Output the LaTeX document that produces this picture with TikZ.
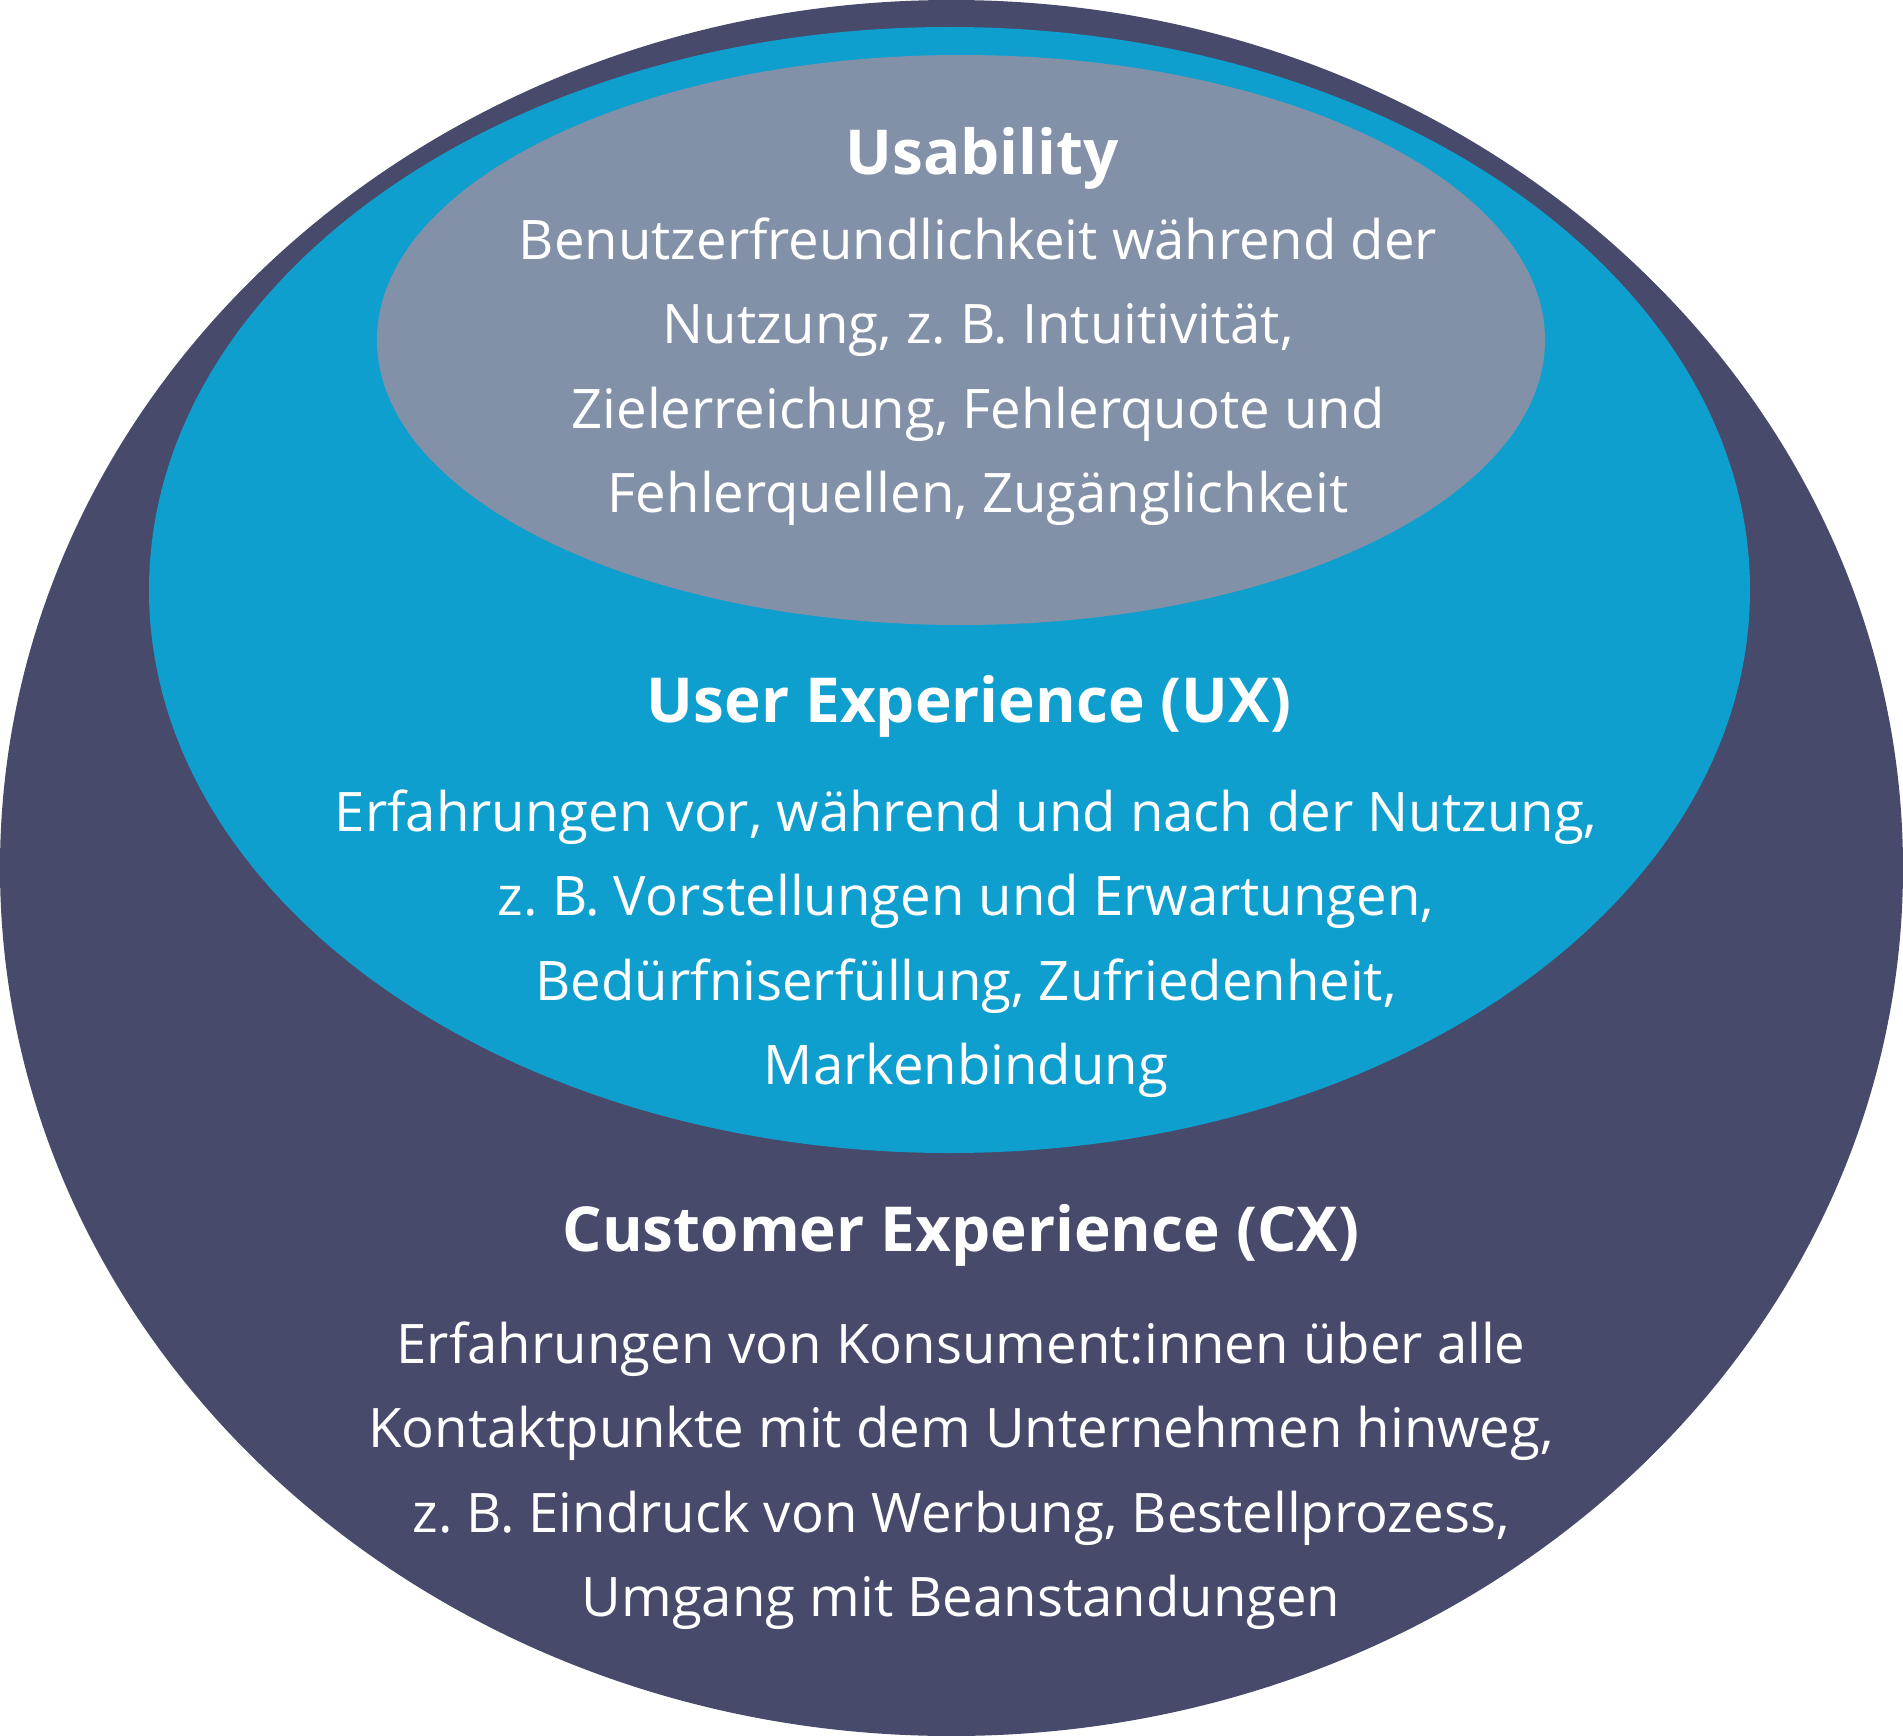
\documentclass[tikz,border=0pt]{standalone}
\usepackage{fontspec}
\setmainfont{Open Sans}
\frenchspacing
\usetikzlibrary{positioning}
\definecolor{cxnavy}{HTML}{474A6A}
\definecolor{uxcyan}{HTML}{0F9FCE}
\definecolor{usegray}{HTML}{8290A8}
\begin{document}
\begin{tikzpicture}[x=1pt,y=-1pt,
  heading/.style={text=white,inner sep=0pt,anchor=base,font=\fontsize{62}{84}\selectfont\bfseries},
  body/.style={text=white,inner sep=0pt,anchor=base,align=center,font=\fontsize{54.5}{84.5}\selectfont}]
\useasboundingbox (0,0) rectangle (1903,1736);
% the three circles
\fill[cxnavy] (951.5,868) ellipse [x radius=951.5pt, y radius=868pt];
\fill[uxcyan] (949.5,590) ellipse [x radius=800.5pt, y radius=563pt];
\fill[usegray] (961,340) ellipse [x radius=584pt, y radius=285pt];
% usability (body text sits on its last line)
\node[heading] (usa) at (982,175) {Usability};
\node[body] (usatext) at (978,512.5) {Benutzerfreundlichkeit während der\\Nutzung, z. B. Intuitivität,\\Zielerreichung, Fehlerquote und\\Fehlerquellen, Zugänglichkeit};
% ux
\node[heading] (ux) at (969,722) {User Experience (UX)};
\node[body] (uxtext) at (966,1084.5) {Erfahrungen vor, während und nach der Nutzung,\\z. B. Vorstellungen und Erwartungen,\\Bedürfniserfüllung, Zufriedenheit,\\Markenbindung};
% cx
\node[heading] (cx) at (961,1251) {Customer Experience (CX)};
\node[body] (cxtext) at (961,1616.5) {Erfahrungen von Konsument:innen über alle\\Kontaktpunkte mit dem Unternehmen hinweg,\\z. B. Eindruck von Werbung, Bestellprozess,\\Umgang mit Beanstandungen};
\end{tikzpicture}
\end{document}
